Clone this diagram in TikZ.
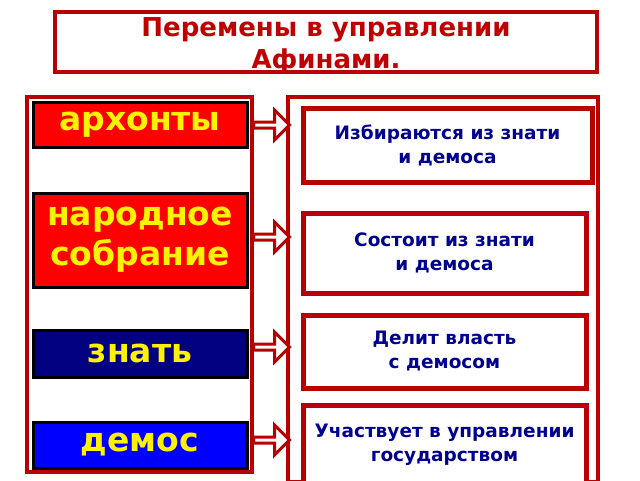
\documentclass[tikz,border=0pt]{standalone}
\usepackage{fontspec}
\setmainfont{DejaVu Sans}
\usetikzlibrary{shapes.arrows}
\definecolor{frame}{HTML}{B80000}
\definecolor{titlered}{HTML}{C00000}
\definecolor{navytext}{HTML}{000090}
\definecolor{navyfill}{HTML}{000080}
\tikzset{
  bigbox/.style={draw=frame,line width=4pt,fill=white},
  rowbox/.style={draw=black,line width=3pt,inner sep=0pt,text=yellow,font=\bfseries\fontsize{33}{40}\selectfont,align=center},
  infobox/.style={draw=frame,line width=5pt,fill=white,inner sep=0pt,text=navytext,font=\bfseries\fontsize{18.5}{24}\selectfont,align=center},
  hollow/.style={single arrow,draw=frame,line width=3pt,fill=white,minimum height=36pt,minimum width=30pt,single arrow head extend=6pt,inner sep=0pt}
}
\begin{document}
\begin{tikzpicture}[x=1pt,y=-1pt]
\useasboundingbox (0,0) rectangle (640,480);
% title
\draw[bigbox] (55,12) rectangle (597,72);
\node[text=titlered,font=\bfseries\fontsize{26}{32}\selectfont,align=center] (title) at (326,46) {Перемены в управлении\\Афинами.};
% left column
\draw[bigbox] (27,97) rectangle (252,472);
\node[rowbox,fill=red,minimum width=214pt,minimum height=45pt] (arch) at (140,124.5) {архонты};
\node[rowbox,fill=red,minimum width=214pt,minimum height=94pt] (sobr) at (140,240) {народное\\ собрание};
\node[rowbox,fill=navyfill,minimum width=214pt,minimum height=47pt] (znat) at (140,353.5) {знать};
\node[rowbox,fill=blue,minimum width=214pt,minimum height=46pt] (demos) at (140,445) {демос};
% right column
\draw[bigbox] (288,97) rectangle (598,482);
\node[infobox,minimum width=289pt,minimum height=74pt] (i1) at (447.5,145) {Избираются из знати\\и демоса};
\node[infobox,minimum width=283pt,minimum height=80pt] (i2) at (444.5,253) {Состоит из знати\\и демоса};
\node[infobox,minimum width=283pt,minimum height=73pt] (i3) at (444.5,351.5) {Делит власть\\с демосом};
\node[infobox,minimum width=283pt,minimum height=80pt] (i4) at (444.5,445) {Участвует в управлении\\государством};
% arrows
\foreach \y in {125,237,347,440}
  \node[hollow] at (270,\y) {};
\end{tikzpicture}
\end{document}
